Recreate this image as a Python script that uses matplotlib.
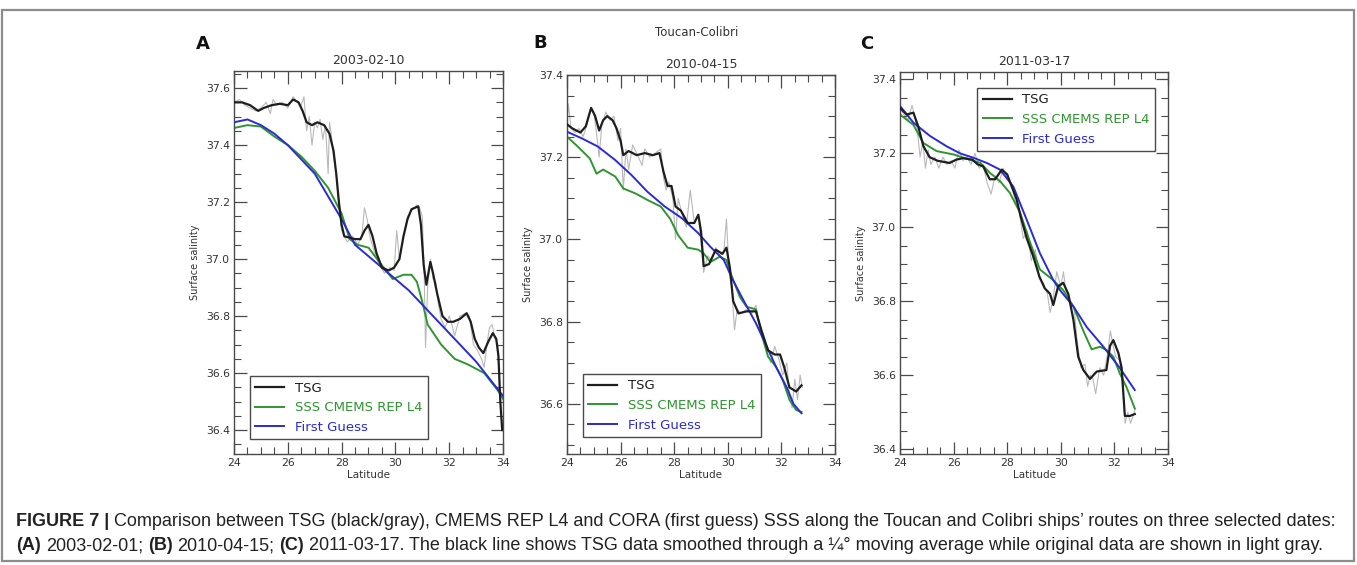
import matplotlib
matplotlib.use("Agg")
import matplotlib.pyplot as plt
from matplotlib.ticker import MultipleLocator
from matplotlib.patches import Rectangle

W, H = 1357, 565

# ---- panel A : 2003-02-10 ----
lat_tsg_a = [24.0, 24.3, 24.6, 24.9, 25.1, 25.4, 25.7, 26.0, 26.2, 26.4, 26.55, 26.7, 26.9, 27.1,
             27.35, 27.55, 27.7, 27.8, 27.9, 28.0, 28.1, 28.3, 28.5, 28.7, 28.85, 29.0, 29.15, 29.3,
             29.5, 29.75, 29.95, 30.15, 30.3, 30.45, 30.6, 30.85, 30.95, 31.05, 31.15, 31.3, 31.4,
             31.55, 31.75, 31.95, 32.15, 32.4, 32.65, 32.8, 32.95, 33.1, 33.27, 33.45, 33.62, 33.75,
             33.83, 33.9, 33.97]
tsg_a = [37.55, 37.55, 37.54, 37.52, 37.53, 37.54, 37.545, 37.54, 37.56, 37.55, 37.52, 37.48, 37.47,
         37.48, 37.47, 37.44, 37.38, 37.30, 37.20, 37.12, 37.08, 37.075, 37.07, 37.07, 37.10, 37.12,
         37.08, 37.02, 36.97, 36.96, 36.97, 37.00, 37.08, 37.14, 37.175, 37.185, 37.12, 36.98, 36.91,
         36.99, 36.95, 36.88, 36.80, 36.78, 36.78, 36.79, 36.81, 36.78, 36.72, 36.69, 36.67, 36.71,
         36.74, 36.72, 36.66, 36.50, 36.40]
lat_raw_a = [24.0, 24.2, 24.4, 24.6, 24.8, 25.0, 25.2, 25.35, 25.45, 25.6, 25.8, 26.0, 26.2, 26.35,
             26.5, 26.6, 26.7, 26.8, 26.9, 27.0, 27.1, 27.2, 27.3, 27.4, 27.5, 27.55, 27.6, 27.7, 27.8,
             27.9, 28.0, 28.1, 28.2, 28.4, 28.6, 28.75, 28.85, 28.95, 29.05, 29.2, 29.4, 29.6, 29.8,
             29.95, 30.05, 30.15, 30.3, 30.45, 30.6, 30.8, 30.9, 31.0, 31.07, 31.12, 31.2, 31.3, 31.4,
             31.5, 31.6, 31.7, 31.85, 32.0, 32.1, 32.2, 32.4, 32.6, 32.75, 32.9, 33.05, 33.2, 33.3,
             33.4, 33.5, 33.6, 33.7, 33.8, 33.87, 33.93, 34.0]
raw_a = [37.55, 37.56, 37.54, 37.53, 37.52, 37.53, 37.55, 37.51, 37.56, 37.54, 37.55, 37.53, 37.57,
         37.55, 37.54, 37.57, 37.45, 37.50, 37.40, 37.48, 37.46, 37.49, 37.42, 37.47, 37.30, 37.48,
         37.45, 37.36, 37.30, 37.18, 37.10, 37.08, 37.06, 37.08, 37.05, 37.08, 37.18, 37.14, 37.08,
         37.03, 36.98, 36.95, 36.97, 36.96, 37.10, 37.00, 37.08, 37.15, 37.17, 37.19, 37.18, 37.15,
         36.95, 36.69, 36.90, 37.00, 36.93, 36.92, 36.84, 36.79, 36.76, 36.80, 36.77, 36.73, 36.80,
         36.81, 36.80, 36.70, 36.68, 36.65, 36.62, 36.70, 36.76, 36.77, 36.72, 36.70, 36.55, 36.45,
         36.40]
lat_l4_a = [24.0, 24.5, 25.0, 25.5, 26.0, 26.5, 27.0, 27.5, 28.0, 28.3, 28.6, 29.0, 29.4, 29.9,
            30.3, 30.6, 30.8, 31.0, 31.2, 31.7, 32.2, 32.7, 33.3, 33.8, 34.0]
l4_a = [37.46, 37.47, 37.465, 37.43, 37.40, 37.36, 37.31, 37.25, 37.16, 37.07, 37.05, 37.04, 36.99,
        36.93, 36.945, 36.945, 36.92, 36.85, 36.77, 36.70, 36.65, 36.63, 36.60, 36.54, 36.51]
lat_fg_a = [24.0, 24.5, 25.0, 25.5, 26.0, 26.5, 27.0, 27.5, 28.0, 28.5, 29.0, 29.5, 30.0, 30.5,
            31.0, 31.5, 32.0, 32.5, 33.0, 33.5, 34.0]
fg_a = [37.48, 37.49, 37.47, 37.44, 37.40, 37.35, 37.30, 37.22, 37.14, 37.05, 37.01, 36.97, 36.93,
        36.89, 36.84, 36.79, 36.74, 36.69, 36.64, 36.58, 36.52]

# ---- panel B : 2010-04-15 ----
lat_tsg_b = [24.0, 24.2, 24.5, 24.7, 24.9, 25.05, 25.2, 25.35, 25.5, 25.7, 25.85, 26.0, 26.1, 26.3,
             26.6, 26.9, 27.2, 27.45, 27.6, 27.75, 27.9, 28.05, 28.25, 28.5, 28.75, 28.9, 29.0, 29.1,
             29.3, 29.55, 29.8, 29.95, 30.08, 30.2, 30.4, 30.7, 31.05, 31.25, 31.5, 31.75, 31.95,
             32.1, 32.3, 32.55, 32.75]
tsg_b = [37.28, 37.27, 37.26, 37.275, 37.32, 37.30, 37.265, 37.29, 37.30, 37.29, 37.27, 37.24,
         37.205, 37.215, 37.205, 37.21, 37.205, 37.21, 37.165, 37.13, 37.13, 37.08, 37.07, 37.04,
         37.04, 37.06, 37.02, 36.935, 36.94, 36.975, 36.965, 36.98, 36.93, 36.85, 36.82, 36.825,
         36.825, 36.78, 36.73, 36.72, 36.72, 36.69, 36.64, 36.63, 36.645]
lat_raw_b = [24.0, 24.05, 24.15, 24.3, 24.45, 24.6, 24.75, 24.9, 25.0, 25.1, 25.2, 25.3, 25.45,
             25.6, 25.75, 25.9, 26.0, 26.1, 26.2, 26.3, 26.45, 26.6, 26.8, 26.9, 27.1, 27.3, 27.5,
             27.6, 27.7, 27.8, 27.95, 28.05, 28.15, 28.3, 28.45, 28.6, 28.75, 28.9, 29.0, 29.1,
             29.25, 29.4, 29.55, 29.7, 29.85, 29.95, 30.05, 30.15, 30.25, 30.35, 30.5, 30.7, 30.9,
             31.05, 31.15, 31.3, 31.45, 31.6, 31.75, 31.9, 32.05, 32.2, 32.3, 32.4, 32.5, 32.6,
             32.7, 32.78]
raw_b = [37.28, 37.33, 37.27, 37.26, 37.27, 37.25, 37.28, 37.32, 37.31, 37.26, 37.20, 37.28, 37.31,
         37.29, 37.30, 37.24, 37.27, 37.12, 37.22, 37.17, 37.23, 37.21, 37.18, 37.22, 37.20, 37.21,
         37.22, 37.15, 37.12, 37.14, 37.10, 37.00, 37.10, 37.06, 37.03, 37.12, 37.04, 37.06, 36.99,
         36.92, 36.96, 36.95, 36.98, 36.96, 36.97, 37.05, 36.92, 36.88, 36.78, 36.83, 36.82, 36.83,
         36.82, 36.84, 36.80, 36.76, 36.73, 36.70, 36.74, 36.71, 36.67, 36.70, 36.62, 36.59, 36.66,
         36.61, 36.67, 36.64]
lat_l4_b = [24.0, 24.4, 24.85, 25.1, 25.35, 25.8, 26.1, 26.55, 27.0, 27.5, 27.85, 28.15, 28.5,
            28.9, 29.1, 29.35, 29.7, 29.95, 30.15, 30.45, 30.7, 31.05, 31.25, 31.5, 31.8, 32.05,
            32.3, 32.55, 32.75]
l4_b = [37.25, 37.226, 37.197, 37.16, 37.17, 37.153, 37.124, 37.112, 37.096, 37.08, 37.05, 37.01,
        36.98, 36.975, 36.966, 36.945, 36.958, 36.95, 36.91, 36.86, 36.836, 36.83, 36.772, 36.715,
        36.69, 36.658, 36.61, 36.585, 36.58]
lat_fg_b = [24.0, 24.55, 25.15, 25.8, 26.4, 27.0, 27.65, 28.3, 28.9, 29.35, 29.85, 30.2, 30.6,
            31.05, 31.45, 31.8, 32.2, 32.45, 32.75]
fg_b = [37.262, 37.246, 37.226, 37.193, 37.157, 37.116, 37.08, 37.051, 37.015, 36.982, 36.95,
        36.90, 36.85, 36.796, 36.74, 36.69, 36.64, 36.60, 36.577]

# ---- panel C : 2011-03-17 ----
lat_tsg_c = [24.0, 24.25, 24.5, 24.68, 24.87, 25.1, 25.4, 25.85, 26.1, 26.35, 26.7, 26.9, 27.1,
             27.35, 27.55, 27.8, 28.0, 28.17, 28.35, 28.5, 28.73, 28.98, 29.2, 29.4, 29.6, 29.72,
             29.9, 30.09, 30.28, 30.47, 30.65, 30.84, 31.09, 31.34, 31.7, 31.84, 31.96, 32.15,
             32.27, 32.39, 32.58, 32.76]
tsg_c = [37.323, 37.305, 37.31, 37.273, 37.22, 37.19, 37.18, 37.174, 37.183, 37.187, 37.183, 37.17,
         37.165, 37.13, 37.13, 37.156, 37.143, 37.11, 37.076, 37.03, 36.97, 36.92, 36.867, 36.835,
         36.82, 36.79, 36.84, 36.85, 36.82, 36.75, 36.65, 36.614, 36.59, 36.61, 36.614, 36.68,
         36.695, 36.66, 36.62, 36.49, 36.49, 36.495]
lat_raw_c = [24.0, 24.1, 24.2, 24.3, 24.45, 24.55, 24.65, 24.75, 24.85, 24.95, 25.05, 25.15, 25.3,
             25.45, 25.6, 25.75, 25.9, 26.05, 26.2, 26.35, 26.5, 26.65, 26.8, 26.95, 27.1, 27.25,
             27.4, 27.55, 27.7, 27.85, 28.0, 28.15, 28.3, 28.45, 28.6, 28.75, 28.9, 29.05, 29.2,
             29.35, 29.5, 29.6, 29.7, 29.85, 30.0, 30.1, 30.2, 30.35, 30.5, 30.6, 30.75, 30.9, 31.0,
             31.1, 31.2, 31.3, 31.45, 31.6, 31.75, 31.85, 31.95, 32.05, 32.2, 32.3, 32.4, 32.5, 32.6,
             32.7, 32.78]
raw_c = [37.32, 37.31, 37.30, 37.29, 37.33, 37.30, 37.26, 37.19, 37.23, 37.16, 37.21, 37.17, 37.19,
         37.16, 37.19, 37.17, 37.18, 37.16, 37.21, 37.18, 37.19, 37.17, 37.20, 37.16, 37.17, 37.12,
         37.09, 37.14, 37.12, 37.16, 37.13, 37.12, 37.07, 37.04, 36.97, 36.99, 36.91, 36.94, 36.86,
         36.85, 36.82, 36.77, 36.80, 36.88, 36.84, 36.88, 36.82, 36.80, 36.78, 36.70, 36.62, 36.63,
         36.57, 36.60, 36.59, 36.55, 36.62, 36.60, 36.66, 36.72, 36.68, 36.65, 36.64, 36.58, 36.47,
         36.50, 36.47, 36.49, 36.51]
lat_l4_c = [24.0, 24.5, 24.87, 25.37, 26.0, 26.6, 27.0, 27.36, 27.73, 28.1, 28.48, 28.86, 29.22,
            29.72, 30.09, 30.47, 30.84, 31.15, 31.46, 31.71, 31.96, 32.2, 32.45, 32.76]
l4_c = [37.305, 37.277, 37.228, 37.206, 37.197, 37.183, 37.174, 37.147, 37.125, 37.093, 37.04,
        36.958, 36.886, 36.857, 36.83, 36.786, 36.72, 36.67, 36.677, 36.668, 36.65, 36.605, 36.568,
        36.51]
lat_fg_c = [24.0, 24.5, 25.12, 25.74, 26.24, 26.74, 27.24, 27.73, 28.23, 28.73, 29.22, 29.72,
            29.97, 30.47, 30.97, 31.59, 32.2, 32.76]
fg_c = [37.328, 37.283, 37.247, 37.219, 37.20, 37.188, 37.174, 37.156, 37.11, 37.02, 36.93, 36.857,
        36.83, 36.786, 36.73, 36.677, 36.62, 36.56]

dates = ["2003-02-10", "2010-04-15", "2011-03-17"]
letters = ["A", "B", "C"]
ylims = [(36.316, 37.66), (36.478, 37.40), (36.387, 37.42)]

BLACK = "#1e1e1e"
GRAY = "#b9b9b9"
GREEN = "#2f962f"
BLUE = "#2a2ad8"
EDGE = "#4a4a4a"

fig = plt.figure(figsize=(W / 100, H / 100), dpi=100)

# axes boxes in pixels: left, right, top, bottom
boxes = [(234, 503, 71, 454), (567, 835, 75, 454), (900, 1168, 72, 454)]
letter_pos = [(203, 44), (540, 43), (867, 44)]
legend_loc = [("lower left", (0.059, 0.039)), ("lower left", (0.06, 0.045)),
              ("upper right", (0.951, 0.958))]

panels = [
    (lat_raw_a, raw_a, lat_tsg_a, tsg_a, lat_l4_a, l4_a, lat_fg_a, fg_a),
    (lat_raw_b, raw_b, lat_tsg_b, tsg_b, lat_l4_b, l4_b, lat_fg_b, fg_b),
    (lat_raw_c, raw_c, lat_tsg_c, tsg_c, lat_l4_c, l4_c, lat_fg_c, fg_c),
]

for i, (xr, yr, xt, yt, xl, yl, xf, yf) in enumerate(panels):
    l, r, t, b = boxes[i]
    ax = fig.add_axes([l / W, 1 - b / H, (r - l) / W, (b - t) / H])
    ax.plot(xr, yr, color=GRAY, lw=0.8, zorder=1)
    ax.plot(xt, yt, color=BLACK, lw=1.6, label="TSG", zorder=4)
    ax.plot(xl, yl, color=GREEN, lw=1.4, label="SSS CMEMS REP L4", zorder=2)
    ax.plot(xf, yf, color=BLUE, lw=1.4, label="First Guess", zorder=3)

    ax.set_xlim(24, 34)
    ax.set_ylim(*ylims[i])
    ax.xaxis.set_major_locator(MultipleLocator(2))
    ax.xaxis.set_minor_locator(MultipleLocator(0.5))
    ax.yaxis.set_major_locator(MultipleLocator(0.2))
    ax.yaxis.set_minor_locator(MultipleLocator(0.05))
    ax.yaxis.set_major_formatter(matplotlib.ticker.FormatStrFormatter("%.1f"))
    ax.tick_params(which="both", direction="in", top=True, right=True, color=EDGE,
                   labelcolor="#333333", labelsize=7.8, pad=3)
    ax.tick_params(which="major", length=9, width=0.9)
    ax.tick_params(which="minor", length=5, width=0.8)
    for sp in ax.spines.values():
        sp.set_color(EDGE)
        sp.set_linewidth(1.0)

    ax.set_title(dates[i], fontsize=9, color="#333333", pad=5)
    ax.set_xlabel("Latitude", fontsize=7.5, color="#333333", labelpad=1)
    ax.set_ylabel("Surface salinity", fontsize=7, color="#333333", labelpad=4)

    loc, anchor = legend_loc[i]
    leg = ax.legend(loc=loc, bbox_to_anchor=anchor, borderaxespad=0, fontsize=9.5,
                    handlelength=2.2, fancybox=False, framealpha=1, edgecolor=EDGE,
                    labelcolor="linecolor")
    leg.get_frame().set_linewidth(1.0)

    lx, ly = letter_pos[i]
    fig.text(lx / W, 1 - ly / H, letters[i], fontsize=13, weight="bold",
             ha="center", va="center", color="#111111")

fig.text(697 / W, 1 - 33 / H, "Toucan-Colibri", fontsize=8.5, color="#333333",
         ha="center", va="center")

# outer frame
fig.patches.append(Rectangle((1.5 / W, 1 - 561 / H), 1352 / W, 551 / H, transform=fig.transFigure,
                             fill=False, edgecolor="#8c8c8c", lw=1.6))

# caption, bold and regular runs placed one after the other
cap_font = ["Liberation Sans Narrow", "Liberation Sans", "DejaVu Sans"]
line1 = [("FIGURE 7 |", True),
         ("Comparison between TSG (black/gray), CMEMS REP L4 and CORA (first guess) SSS along "
          "the Toucan and Colibri ships\u2019 routes on three selected dates:", False)]
line2 = [("(A)", True), ("2003-02-01;", False), ("(B)", True), ("2010-04-15;", False),
         ("(C)", True), ("2011-03-17. The black line shows TSG data smoothed through a "
                         "\u00bc\u00b0 moving average while original data are shown in light gray.",
                         False)]

renderer = fig.canvas.get_renderer()


def caption_line(parts, y_px, size):
    x = 16
    for txt, bold in parts:
        t = fig.text(x / W, 1 - y_px / H, txt, fontsize=size, family=cap_font,
                     weight="bold" if bold else "normal", color="#222222",
                     ha="left", va="center")
        x = t.get_window_extent(renderer=renderer).x1 + 5


caption_line(line1, 522, 13)
caption_line(line2, 546, 13)

fig.savefig("out.png", dpi=100)
